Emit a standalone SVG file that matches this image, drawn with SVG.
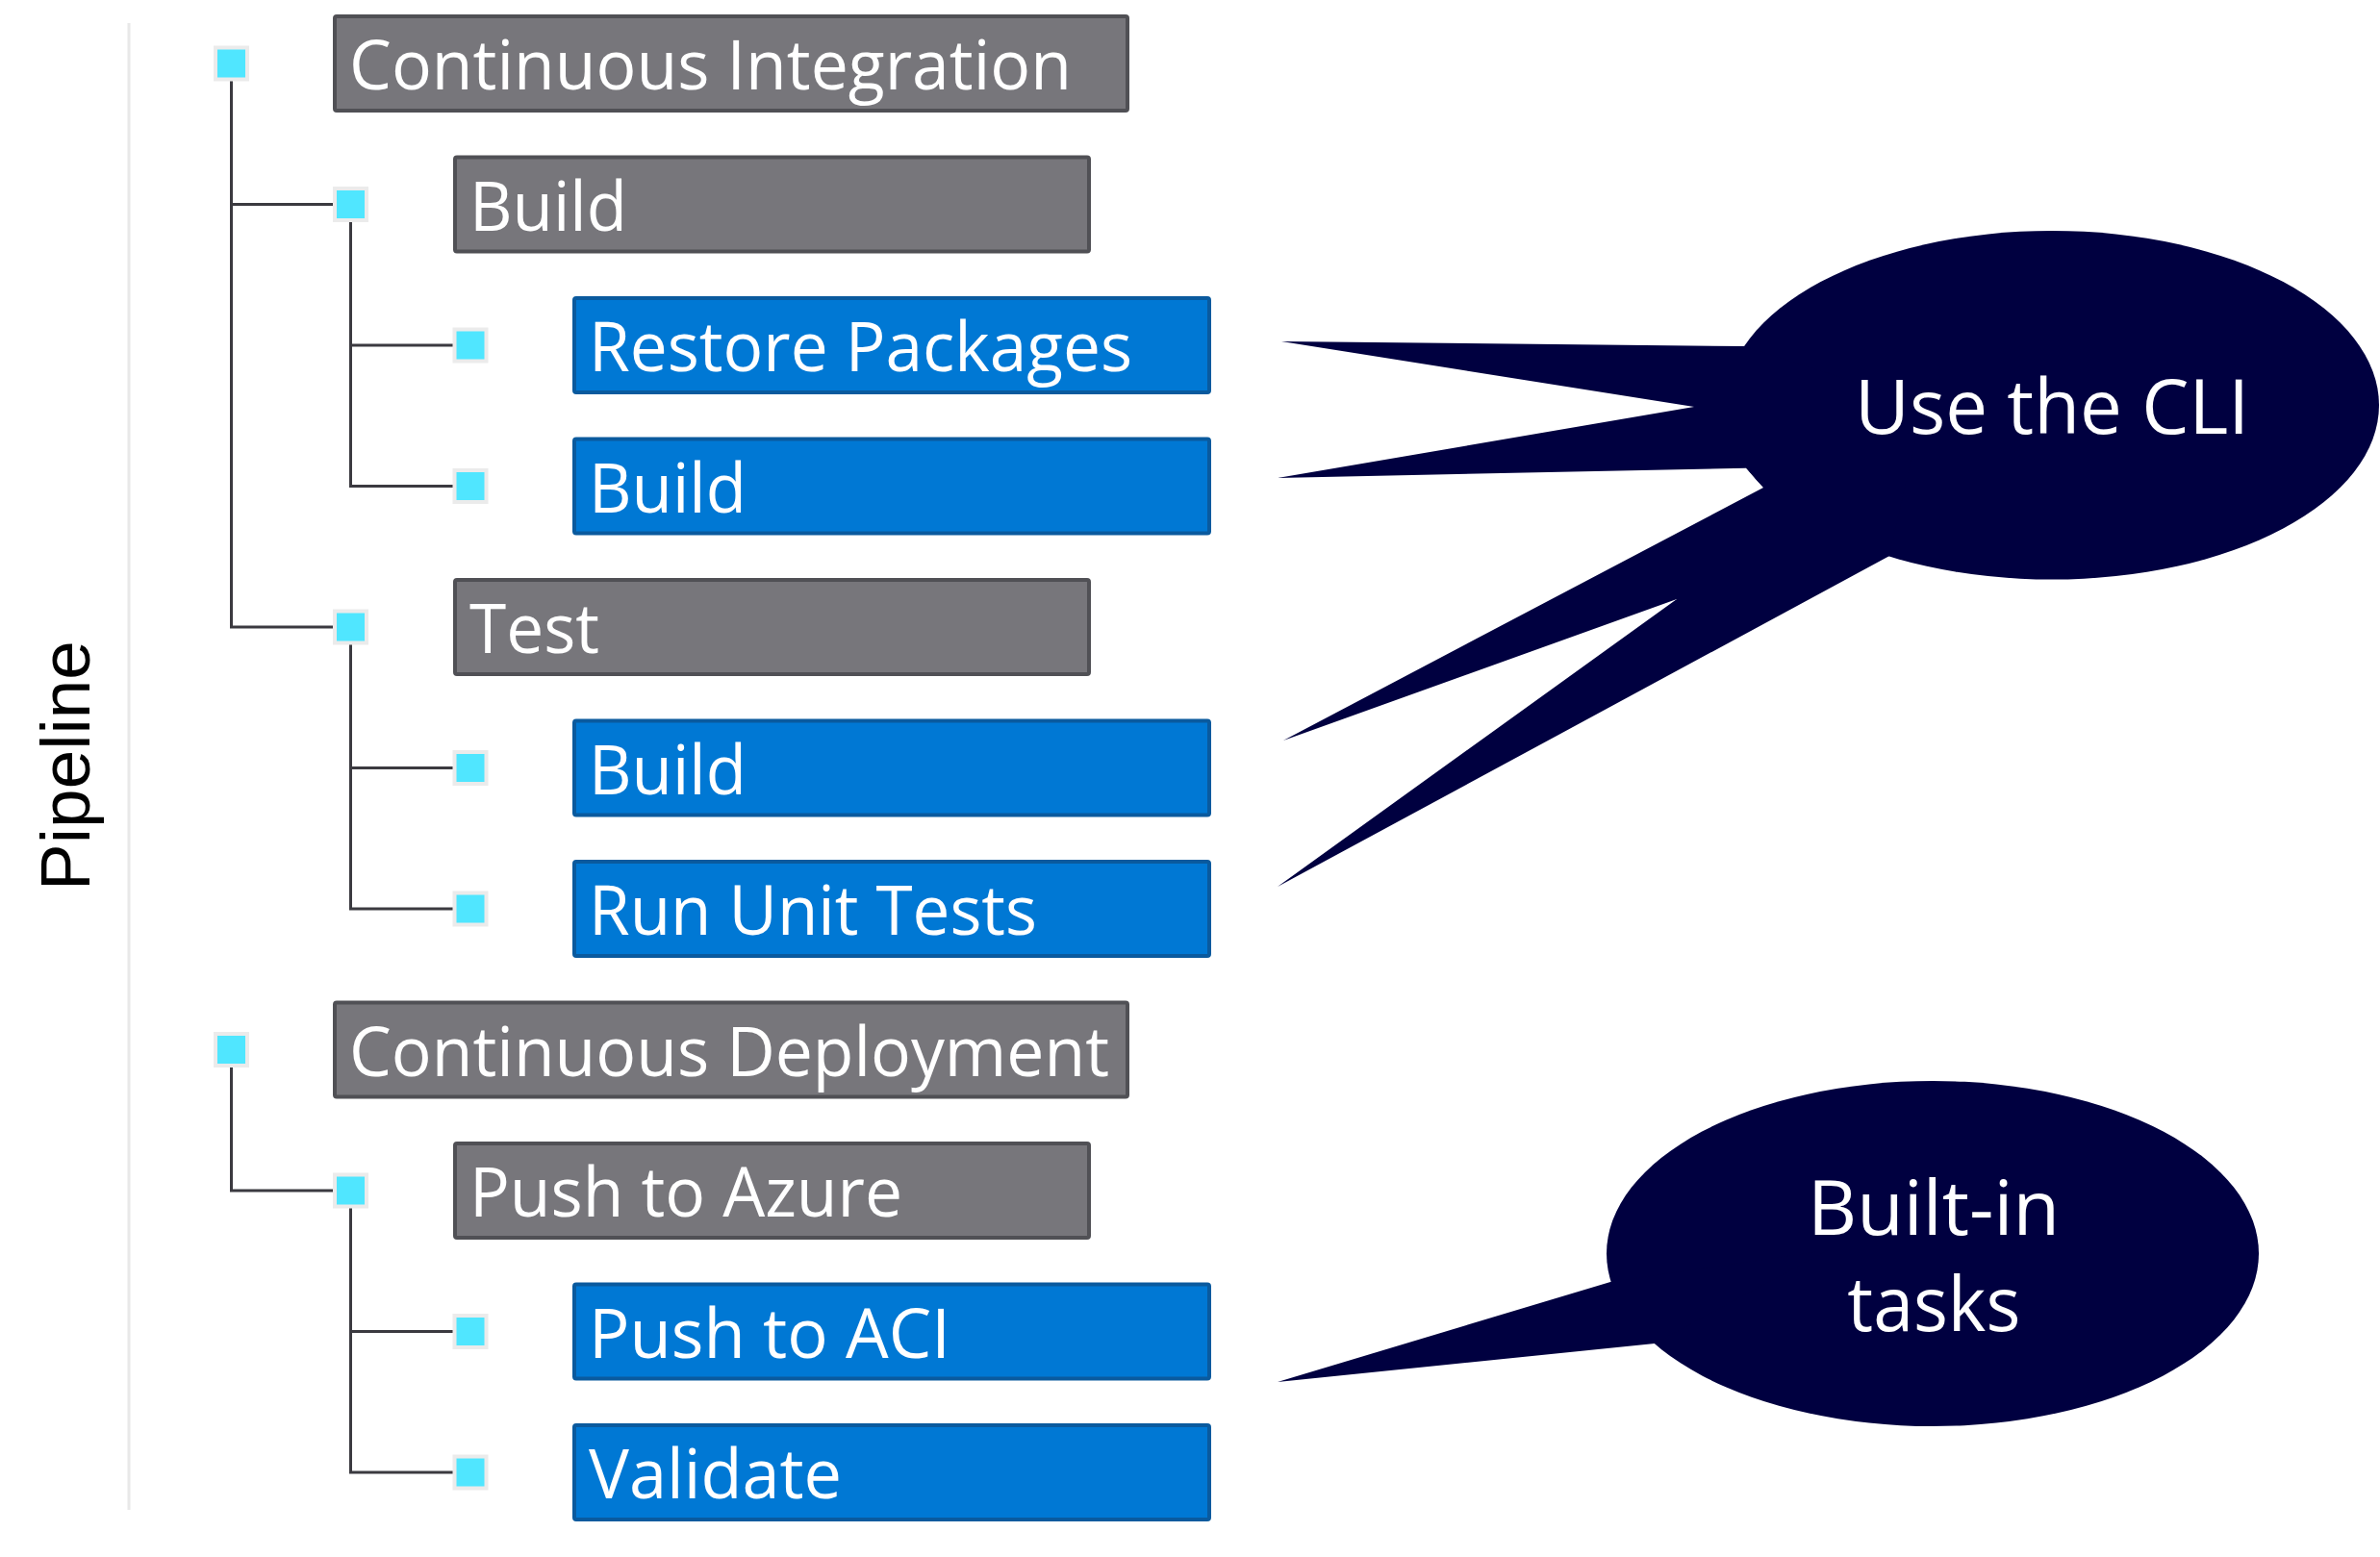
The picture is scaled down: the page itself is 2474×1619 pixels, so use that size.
<svg xmlns="http://www.w3.org/2000/svg" width="2474" height="1619" viewBox="0 0 2474 1619">
  <style>
    .gray { fill: #77767b; stroke: #505055; stroke-width: 4; }
    .blue { fill: #0078d4; stroke: #0a5a9e; stroke-width: 4; }
    .lbl { font-family: "Open Sans", "Noto Sans", sans-serif; font-size: 71px; fill: #ffffff; }
    .sq { fill: #50e6ff; stroke: #ebebeb; stroke-width: 4; }
    .conn { fill: none; stroke: #3b3a40; stroke-width: 3; }
    .bubble { fill: #000040; }
    .btxt { font-family: "Open Sans", "Noto Sans", sans-serif; font-size: 78px; fill: #ffffff; text-anchor: middle; }
  </style>
  <rect width="2474" height="1619" fill="#ffffff"/>

  <g id="pipeline-label">
    <line x1="134" y1="24" x2="134" y2="1570" stroke="#e8e8e8" stroke-width="3"/>
    <text transform="translate(93,796) rotate(-90)" text-anchor="middle" font-family="'Liberation Sans', Arial, sans-serif" font-size="73" fill="#000000">Pipeline</text>
  </g>

  <g id="connectors">
    <path class="conn" d="M240.5 83 V652 H347 M240.5 212.5 H347"/>
    <path class="conn" d="M364.5 229 V505.5 H471 M364.5 359 H471"/>
    <path class="conn" d="M364.5 668.5 V945 H471 M364.5 798.5 H471"/>
    <path class="conn" d="M240.5 1108.5 V1238 H347"/>
    <path class="conn" d="M364.5 1254.5 V1531 H471 M364.5 1384.5 H471"/>
  </g>

  <g id="node-ci">
    <rect class="sq" x="224" y="49.5" width="33" height="33"/>
    <rect class="gray" x="348" y="17" width="824" height="98" rx="2"/>
    <text class="lbl" x="363" y="93" textLength="751" lengthAdjust="spacingAndGlyphs">Continuous Integration</text>
  </g>
  <g id="node-build-stage">
    <rect class="sq" x="348" y="196" width="33" height="33"/>
    <rect class="gray" x="473" y="163.5" width="659" height="98" rx="2"/>
    <text class="lbl" x="488" y="239.5" textLength="164" lengthAdjust="spacingAndGlyphs">Build</text>
  </g>
  <g id="node-restore">
    <rect class="sq" x="472.5" y="342.5" width="33" height="33"/>
    <rect class="blue" x="597" y="310" width="660" height="98" rx="2"/>
    <text class="lbl" x="612" y="386" textLength="565" lengthAdjust="spacingAndGlyphs">Restore Packages</text>
  </g>
  <g id="node-build-task">
    <rect class="sq" x="472.5" y="489" width="33" height="33"/>
    <rect class="blue" x="597" y="456.5" width="660" height="98" rx="2"/>
    <text class="lbl" x="612" y="532.5" textLength="164" lengthAdjust="spacingAndGlyphs">Build</text>
  </g>
  <g id="node-test-stage">
    <rect class="sq" x="348" y="635.5" width="33" height="33"/>
    <rect class="gray" x="473" y="603" width="659" height="98" rx="2"/>
    <text class="lbl" x="488" y="679" textLength="135" lengthAdjust="spacingAndGlyphs">Test</text>
  </g>
  <g id="node-test-build">
    <rect class="sq" x="472.5" y="782" width="33" height="33"/>
    <rect class="blue" x="597" y="749.5" width="660" height="98" rx="2"/>
    <text class="lbl" x="612" y="825.5" textLength="164" lengthAdjust="spacingAndGlyphs">Build</text>
  </g>
  <g id="node-unit-tests">
    <rect class="sq" x="472.5" y="928.5" width="33" height="33"/>
    <rect class="blue" x="597" y="896" width="660" height="98" rx="2"/>
    <text class="lbl" x="612" y="972" textLength="466" lengthAdjust="spacingAndGlyphs">Run Unit Tests</text>
  </g>
  <g id="node-cd">
    <rect class="sq" x="224" y="1075" width="33" height="33"/>
    <rect class="gray" x="348" y="1042.5" width="824" height="98" rx="2"/>
    <text class="lbl" x="363" y="1118.5" textLength="790" lengthAdjust="spacingAndGlyphs">Continuous Deployment</text>
  </g>
  <g id="node-push-azure">
    <rect class="sq" x="348" y="1221.5" width="33" height="33"/>
    <rect class="gray" x="473" y="1189" width="659" height="98" rx="2"/>
    <text class="lbl" x="488" y="1265" textLength="450" lengthAdjust="spacingAndGlyphs">Push to Azure</text>
  </g>
  <g id="node-push-aci">
    <rect class="sq" x="472.5" y="1368" width="33" height="33"/>
    <rect class="blue" x="597" y="1335.5" width="660" height="98" rx="2"/>
    <text class="lbl" x="612" y="1411.5" textLength="376" lengthAdjust="spacingAndGlyphs">Push to ACI</text>
  </g>
  <g id="node-validate">
    <rect class="sq" x="472.5" y="1514.5" width="33" height="33"/>
    <rect class="blue" x="597" y="1482" width="660" height="98" rx="2"/>
    <text class="lbl" x="612" y="1558" textLength="263" lengthAdjust="spacingAndGlyphs">Validate</text>
  </g>

  <g id="callout-cli">
    <ellipse class="bubble" cx="2133" cy="421.3" rx="340" ry="181.3"/>
    <polygon class="bubble" points="1813,360 1332,355 1761,423 1328,497 1815,486.7 1833,507 1334,770 1743,623 1328,922 1963.7,578.3 2000,420"/>
    <text class="btxt" x="2133" y="450.7" textLength="410" lengthAdjust="spacingAndGlyphs">Use the CLI</text>
  </g>

  <g id="callout-builtin">
    <ellipse class="bubble" cx="2009" cy="1303.5" rx="339" ry="179.5"/>
    <polygon class="bubble" points="1674,1333 1328,1437 1720,1397 1900,1300"/>
    <text class="btxt" x="2010" y="1284.3" textLength="262" lengthAdjust="spacingAndGlyphs">Built-in</text>
    <text class="btxt" x="2010.3" y="1384.3" textLength="180" lengthAdjust="spacingAndGlyphs">tasks</text>
  </g>
</svg>
